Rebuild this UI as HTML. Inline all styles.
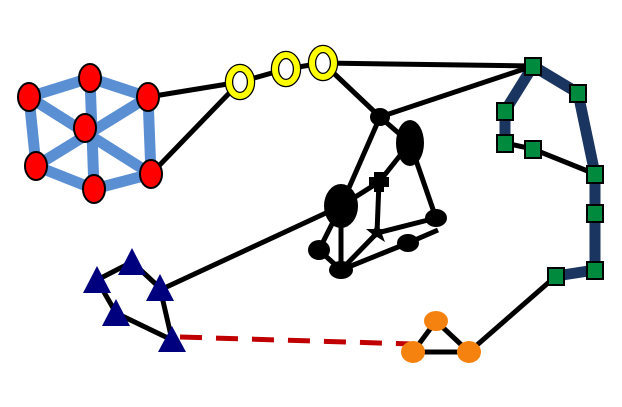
<!DOCTYPE html>
<html><head><style>html,body{margin:0;padding:0;background:#fff}svg{display:block}</style></head>
<body>
<svg width="622" height="407" viewBox="0 0 622 407" xmlns="http://www.w3.org/2000/svg">
<g stroke="#5b8fd4" stroke-width="11" stroke-linecap="round">
<line x1="29" y1="97" x2="90" y2="78"/><line x1="90" y1="78" x2="148" y2="97"/>
<line x1="29" y1="97" x2="36" y2="166"/><line x1="148" y1="97" x2="151" y2="174"/>
<line x1="36" y1="166" x2="94" y2="189"/><line x1="94" y1="189" x2="151" y2="174"/>
<line x1="29" y1="97" x2="151" y2="174"/><line x1="148" y1="97" x2="36" y2="166"/>
<line x1="90" y1="78" x2="94" y2="189"/>
</g>
<g stroke="#1a3560" stroke-width="11" fill="none" stroke-linejoin="round">
<polyline points="533,66 505,111 505,143"/>
<polyline points="533,66 578,93 595,174 595,213 595,270 556,276"/>
</g>
<g stroke="#000" stroke-width="5" fill="none">
<line x1="148" y1="97" x2="240" y2="82"/><line x1="151" y1="174" x2="240" y2="82"/>
<line x1="240" y1="82" x2="286" y2="69"/><line x1="286" y1="69" x2="323" y2="63"/>
<line x1="323" y1="63" x2="533" y2="66"/><line x1="323" y1="63" x2="380" y2="117"/>
<line x1="380" y1="117" x2="533" y2="66"/>
<line x1="380" y1="117" x2="341" y2="206"/><line x1="380" y1="117" x2="410" y2="143"/>
<line x1="410" y1="143" x2="379" y2="182"/><line x1="341" y1="206" x2="379" y2="182"/>
<line x1="379" y1="182" x2="377" y2="233"/><line x1="410" y1="143" x2="436" y2="218"/>
<line x1="377" y1="233" x2="436" y2="218"/><line x1="341" y1="270" x2="408" y2="243"/>
<line x1="408" y1="243" x2="438" y2="230"/><line x1="341" y1="206" x2="319" y2="250"/>
<line x1="341" y1="206" x2="341" y2="270"/><line x1="341" y1="270" x2="377" y2="233"/>
<line x1="319" y1="250" x2="341" y2="270"/><line x1="341" y1="206" x2="160" y2="290"/>
<line x1="97" y1="280" x2="132" y2="262"/><line x1="132" y1="262" x2="160" y2="288"/>
<line x1="97" y1="280" x2="116" y2="313"/><line x1="116" y1="313" x2="172" y2="340"/>
<line x1="160" y1="288" x2="172" y2="340"/>
<polyline points="505,143 533,149 595,174"/>
<line x1="556" y1="276" x2="469" y2="352"/>
<polyline points="413,352 436,321 469,352 413,352"/>
</g>
<line x1="180" y1="337" x2="413" y2="344" stroke="#c00000" stroke-width="5" stroke-dasharray="22,14"/>
<g fill="#000">
<ellipse cx="380" cy="117" rx="10" ry="9"/><ellipse cx="410" cy="143" rx="14" ry="23"/>
<ellipse cx="341" cy="206" rx="17" ry="22"/><ellipse cx="436" cy="218" rx="11" ry="9"/>
<ellipse cx="408" cy="243" rx="11" ry="9"/><ellipse cx="319" cy="250" rx="11" ry="10"/>
<ellipse cx="341" cy="270" rx="12" ry="9"/>
<polygon points="374,172 384,172 384,177 389,177 389,187 384,187 384,192 374,192 374,187 369,187 369,177 374,177"/>
<polygon points="377,222 380,229 388,229 382,234 385,242 377,237 369,242 372,234 366,229 374,229"/>
</g>
<g fill="#ff0000" stroke="#000" stroke-width="2">
<ellipse cx="29" cy="97" rx="11" ry="14"/><ellipse cx="90" cy="78" rx="11" ry="14"/>
<ellipse cx="148" cy="97" rx="11" ry="14"/><ellipse cx="85" cy="128" rx="11" ry="14"/>
<ellipse cx="36" cy="166" rx="11" ry="14"/><ellipse cx="94" cy="189" rx="11" ry="14"/>
<ellipse cx="151" cy="174" rx="11" ry="14"/>
</g>
<g fill="#fff" stroke="#000" stroke-width="8.5">
<ellipse cx="240" cy="82" rx="11" ry="14"/><ellipse cx="286" cy="69" rx="11" ry="14"/><ellipse cx="323" cy="63" rx="11" ry="14"/>
</g>
<g fill="none" stroke="#ffff00" stroke-width="6">
<ellipse cx="240" cy="82" rx="11" ry="14"/><ellipse cx="286" cy="69" rx="11" ry="14"/><ellipse cx="323" cy="63" rx="11" ry="14"/>
</g>
<g fill="#008a3e" stroke="#000" stroke-width="2">
<rect x="525" y="58" width="16" height="17"/><rect x="570" y="85" width="16" height="17"/>
<rect x="497" y="103" width="16" height="17"/><rect x="497" y="135" width="16" height="17"/>
<rect x="525" y="141" width="16" height="17"/><rect x="587" y="166" width="16" height="17"/>
<rect x="587" y="205" width="16" height="17"/><rect x="587" y="262" width="16" height="17"/>
<rect x="548" y="268" width="16" height="17"/>
</g>
<g fill="#00007f">
<polygon points="97,266 111,293 83,293"/><polygon points="132,248 146,275 118,275"/>
<polygon points="160,274 174,301 146,301"/><polygon points="116,299 130,326 102,326"/>
<polygon points="172,326 186,352 158,352"/>
</g>
<g fill="#f5820f">
<ellipse cx="436" cy="321" rx="12" ry="10"/><ellipse cx="413" cy="352" rx="12" ry="11"/>
<ellipse cx="469" cy="352" rx="12" ry="11"/>
</g>
</svg>
</body></html>
